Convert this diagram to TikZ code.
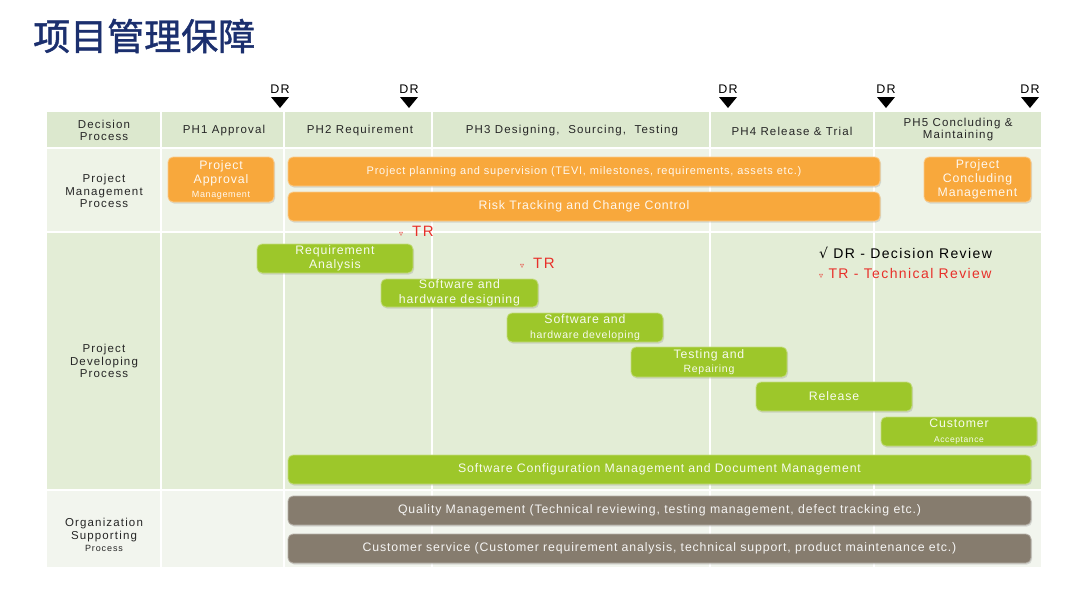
\documentclass[tikz,border=0pt]{standalone}
\usepackage{fontspec}
\setmainfont{Liberation Sans}
\newfontfamily\cjk[FakeBold=1.2]{Noto Sans CJK SC}
\newfontfamily\djv{DejaVu Sans}
\newfontfamily\spacedA[LetterSpace=10]{Liberation Sans}
\newfontfamily\spacedB[LetterSpace=7]{Liberation Sans}
\usetikzlibrary{shadows}
\definecolor{navy}{HTML}{1B2F6E}
\definecolor{hdrc}{HTML}{DCE8CE}
\definecolor{pmc}{HTML}{EEF3E7}
\definecolor{pdc}{HTML}{E3EDD6}
\definecolor{osc}{HTML}{F2F5EE}
\definecolor{orng}{HTML}{F8A83C}
\definecolor{grn}{HTML}{9DC72A}
\definecolor{gry}{HTML}{867C6E}
\definecolor{trred}{HTML}{E8302A}
\newcommand\trmark{{\djv\fontsize{8}{8}\selectfont ▿}}
\newcommand\fsz[1]{\fontsize{#1}{#1}\selectfont}
\tikzset{
  boxbase/.style={rounded corners=5pt, line width=0.8pt, text=white, text opacity=0.92,
    align=center, inner sep=1pt, font=\spacedB\fontsize{12.3}{14.5}\selectfont,
    drop shadow={opacity=0.25, shadow xshift=1pt, shadow yshift=-1.5pt}},
  obox/.style={boxbase, fill=orng, draw=orng!60!white},
  gbox/.style={boxbase, fill=grn, draw=grn!60!white},
  qbox/.style={boxbase, fill=gry, draw=gry!60!white},
  hdrtxt/.style={font=\spacedA\fontsize{11.5}{12}\selectfont, align=center, text=black!85},
  rowlbl/.style={font=\spacedA\fontsize{11.5}{12.5}\selectfont, align=center, text=black!85},
  drlbl/.style={font=\spacedA\fontsize{12.5}{12}\selectfont},
  trlbl/.style={font=\spacedA\fontsize{15}{15}\selectfont, text=trred},
  sep/.style={white, line width=1.6pt}
}
\begin{document}
\begin{tikzpicture}[x=1pt,y=-1pt]
\useasboundingbox[fill=white] (0,0) rectangle (1080,608);
% title
\node[anchor=west, text=navy, font=\cjk\fontsize{37}{37}\selectfont, inner sep=0pt] (title) at (33,36) {项目管理保障};
% table background
\fill[hdrc] (47,112) rectangle (1041,148);
\fill[pmc] (47,148) rectangle (1041,232);
\fill[pdc] (47,232) rectangle (1041,490);
\fill[osc] (47,490) rectangle (1041,567);
\foreach \yy in {148,232,490} \draw[sep] (47,\yy) -- (1041,\yy);
\foreach \xx in {161,284,432,710,874} \draw[sep] (\xx,112) -- (\xx,567);
% header texts
\node[hdrtxt] (h0) at (104,130) {Decision\\Process};
\node[hdrtxt] (h1) at (224,131) {PH1 Approval};
\node[hdrtxt] (h2) at (360,131) {PH2 Requirement};
\node[hdrtxt] (h3) at (572,131) {PH3 Designing,\ \ Sourcing,\ \ Testing};
\node[hdrtxt] (h4) at (792,131) {PH4 Release \& Trial};
\node[hdrtxt] (h5) at (958,130) {PH5 Concluding \&\\Maintaining};
% DR markers
\foreach \xx/\nm in {280/a,409/b,728/c,886/d,1030/e}{
  \node[drlbl] (dr\nm) at (\xx,89) {DR};
  \fill[black] (\xx-9,97) -- (\xx+9,97) -- (\xx,108) -- cycle;
}
% row labels
\node[rowlbl] (l1) at (104,191) {Project\\Management\\Process};
\node[rowlbl] (l2) at (104,361) {Project\\Developing\\Process};
\node[rowlbl] (l3) at (104,535) {Organization\\Supporting\\{\fsz{9}Process}};
% project management boxes
\node[obox, minimum width=106pt, minimum height=45pt, font=\spacedB\fontsize{12.3}{14}\selectfont] (pm1) at (221,179.5) {Project\\Approval\\{\fsz{9}Management}};
\node[obox, minimum width=592pt, minimum height=29pt] (pm2) at (584,171.5) {{\fsz{11}Project planning and supervision (TEVI, milestones, requirements, assets etc.)}};
\node[obox, minimum width=592pt, minimum height=29pt] (pm3) at (584,206.5) {Risk Tracking and Change Control};
\node[obox, minimum width=107pt, minimum height=45pt, font=\spacedB\fontsize{12.3}{14}\selectfont] (pm4) at (977.5,179.5) {Project\\Concluding\\Management};
% TR markers
\node[trlbl, anchor=west, inner sep=0pt] (tr1) at (399,231) {\trmark\hspace{9pt}TR};
\node[trlbl, anchor=west, inner sep=0pt] (tr2) at (520,263) {\trmark\hspace{9pt}TR};
% legend
\node[anchor=west, font=\spacedA\fontsize{14}{14}\selectfont, inner sep=0pt] (lg1) at (819,253) {{\djv √} DR - Decision Review};
\node[anchor=west, font=\spacedA\fontsize{14}{14}\selectfont, text=trred, inner sep=0pt] (lg2) at (819,273) {\trmark\ TR - Technical Review};
% developing boxes
\node[gbox, minimum width=156pt, minimum height=29pt] (g1) at (335,258.5) {Requirement\\Analysis};
\node[gbox, minimum width=157pt, minimum height=28pt] (g2) at (459.5,293) {Software and\\hardware designing};
\node[gbox, minimum width=156pt, minimum height=29pt] (g3) at (585,327.5) {Software and\\{\fsz{10.5}hardware developing}};
\node[gbox, minimum width=156pt, minimum height=30pt] (g4) at (709,362) {Testing and\\{\fsz{10.5}Repairing}};
\node[gbox, minimum width=156pt, minimum height=29pt] (g5) at (834,396.5) {Release};
\node[gbox, minimum width=156pt, minimum height=29pt] (g6) at (959,431.5) {Customer\\{\fsz{8.5}Acceptance}};
\node[gbox, minimum width=743pt, minimum height=29pt] (g7) at (659.5,469.5) {Software Configuration Management and Document Management};
% supporting boxes
\node[qbox, minimum width=743pt, minimum height=29pt] (q1) at (659.5,510.5) {Quality Management (Technical reviewing, testing management, defect tracking etc.)};
\node[qbox, minimum width=743pt, minimum height=29pt] (q2) at (659.5,548.5) {Customer service (Customer requirement analysis, technical support, product maintenance etc.)};
\end{tikzpicture}
\end{document}
